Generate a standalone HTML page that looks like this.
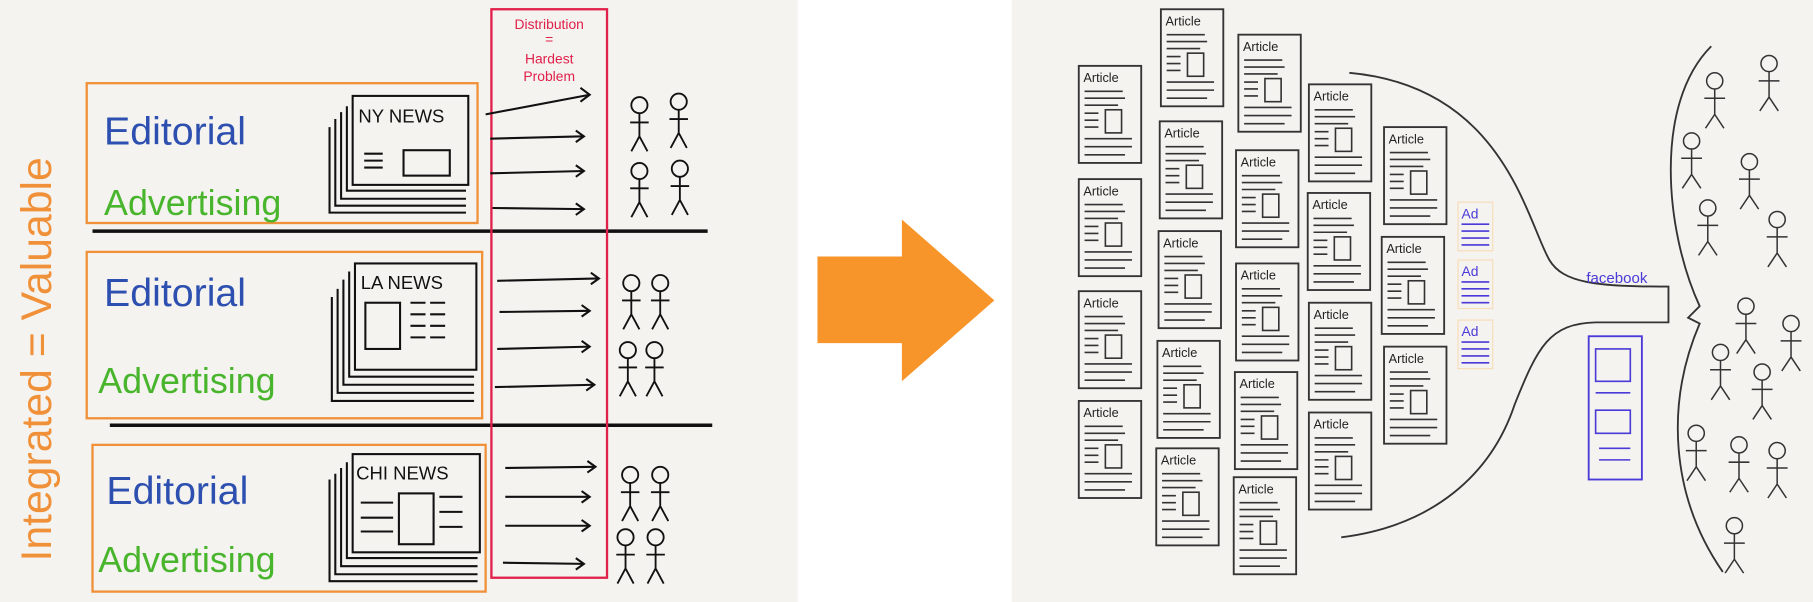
<!DOCTYPE html>
<html><head><meta charset="utf-8"><style>
html,body{margin:0;padding:0;background:#fff;}
svg{display:block;}
text{font-family:"Liberation Sans",sans-serif;}
</style></head><body>
<svg width="1813" height="602" viewBox="0 0 1568 521" preserveAspectRatio="none" xmlns="http://www.w3.org/2000/svg">
<defs>
<g id="fig"><circle cx="0" cy="0" r="7" fill="none" stroke="#111" stroke-width="1.6"/><path d="M0 7V27M-8 15H8M0 27L-7 40M0 27L7 40" stroke="#111" stroke-width="1.6" fill="none"/></g>
<g id="fig2"><circle cx="0" cy="0" r="7" fill="none" stroke="#333" stroke-width="1.3"/><path d="M0 7V29M-9 15H9M0 29L-8 41M0 29L8 41" stroke="#333" stroke-width="1.3" fill="none"/></g>
<g id="art"><rect x="0" y="0" width="54" height="84" fill="none" stroke="#333" stroke-width="1.6"/><path d="M5 22H38M5 28H40M5 34H34M5 41H17M5 47H17M5 53H17M5 63H46M5 70H46M5 77H40" stroke="#333" stroke-width="1.4"/><rect x="23" y="38" width="14" height="20" fill="none" stroke="#333" stroke-width="1.4"/></g>
<g id="ad"><rect x="0" y="0" width="30" height="42" fill="none" stroke="#f7dcb8" stroke-width="1"/><path d="M3 19H27M3 25H27M3 31H27M3 37H27" stroke="#4a3ad8" stroke-width="1.4"/></g>
</defs>
<rect x="0" y="0" width="690" height="521" fill="#f4f3ef"/>
<rect x="875" y="0" width="693" height="521" fill="#f4f3ef"/>
<path d="M707 222H780V190L860 260L780 330V297H707Z" fill="#f7952a"/>
<text transform="translate(44,486) rotate(-90)" font-size="37" fill="#f0913a">Integrated = Valuable</text>
<g fill="none" stroke="#f0913a" stroke-width="2">
<rect x="75" y="72" width="338" height="121"/><rect x="75" y="218" width="342" height="144"/><rect x="80" y="385" width="340" height="127"/></g>
<path d="M80 200H612M95 368H616" stroke="#111" stroke-width="3"/>
<rect x="425" y="8" width="100" height="492" fill="none" stroke="#e0204a" stroke-width="2"/>
<g fill="#e0204a" font-size="12" text-anchor="middle"><text x="475" y="25">Distribution</text><text x="475" y="38">=</text><text x="475" y="55">Hardest</text><text x="475" y="70">Problem</text></g>
<g font-size="34" fill="#2d4fb0"><text x="90" y="125">Editorial</text><text x="90" y="265">Editorial</text><text x="92" y="436">Editorial</text></g>
<g font-size="31" fill="#49b52d"><text x="90" y="186">Advertising</text><text x="85" y="340">Advertising</text><text x="85" y="495">Advertising</text></g>
<g fill="none" stroke="#111" stroke-width="1.8">
<rect x="305" y="83" width="100" height="77"/><path d="M300 92V165H403M295 97V172H403M290 103V178H403M285 110V184H403"/>
<rect x="307" y="228" width="105" height="92"/><path d="M302 235V326H410M297 242V333H410M292 250V340H410M287 257V347H410"/>
<rect x="305" y="393" width="110" height="85"/><path d="M300 400V483H413M295 405V490H413M290 410V497H413M285 415V503H413"/>
<rect x="349" y="130" width="40" height="22"/><path d="M315 133H331M315 139H331M315 145H331"/>
<rect x="316" y="262" width="30" height="40"/><path d="M355 262H368M372 262H385M355 272H368M372 272H385M355 282H368M372 282H385M355 292H368M372 292H385"/>
<rect x="345" y="427" width="30" height="44"/><path d="M312 435H340M312 448H340M312 460H340M380 430H400M380 443H400M380 456H400"/>
</g>
<g font-size="16" fill="#111"><text x="310" y="106">NY NEWS</text><text x="312" y="250">LA NEWS</text><text x="308" y="415">CHI NEWS</text></g>
<g stroke="#111" stroke-width="1.8" fill="none">
<path d="M420 99L510 82M424 120L505 118M424 150L505 148M426 180L505 181"/>
<path d="M430 243L518 241M432 270L510 269M430 302L510 300M428 335L514 333"/>
<path d="M437 405L515 404M437 430L510 430M437 455L510 455M435 487L505 488"/>
<path d="M502 76L510 82L502 88M498 113L505 118L498 123M498 143L505 148L498 153M498 176L505 181L498 186"/>
<path d="M511 236L518 241L511 246M503 264L510 269L503 274M503 295L510 300L503 305M507 328L514 333L507 338"/>
<path d="M508 399L515 404L508 409M503 425L510 430L503 435M503 450L510 455L503 460M498 483L505 488L498 493"/>
</g>
<use href="#fig" x="553" y="91"/><use href="#fig" x="587" y="88"/><use href="#fig" x="553" y="148"/><use href="#fig" x="588" y="146"/>
<use href="#fig" x="546" y="245"/><use href="#fig" x="571" y="245"/><use href="#fig" x="543" y="303"/><use href="#fig" x="566" y="303"/>
<use href="#fig" x="545" y="411"/><use href="#fig" x="571" y="411"/><use href="#fig" x="541" y="465"/><use href="#fig" x="567" y="465"/>
<g font-size="11" fill="#222">
<g transform="translate(933,57)"><use href="#art"/><text x="4" y="14">Article</text></g>
<g transform="translate(933,155)"><use href="#art"/><text x="4" y="14">Article</text></g>
<g transform="translate(933,252)"><use href="#art"/><text x="4" y="14">Article</text></g>
<g transform="translate(933,347)"><use href="#art"/><text x="4" y="14">Article</text></g>
<g transform="translate(1004,8)"><use href="#art"/><text x="4" y="14">Article</text></g>
<g transform="translate(1003,105)"><use href="#art"/><text x="4" y="14">Article</text></g>
<g transform="translate(1002,200)"><use href="#art"/><text x="4" y="14">Article</text></g>
<g transform="translate(1001,295)"><use href="#art"/><text x="4" y="14">Article</text></g>
<g transform="translate(1000,388)"><use href="#art"/><text x="4" y="14">Article</text></g>
<g transform="translate(1071,30)"><use href="#art"/><text x="4" y="14">Article</text></g>
<g transform="translate(1069,130)"><use href="#art"/><text x="4" y="14">Article</text></g>
<g transform="translate(1069,228)"><use href="#art"/><text x="4" y="14">Article</text></g>
<g transform="translate(1068,322)"><use href="#art"/><text x="4" y="14">Article</text></g>
<g transform="translate(1067,413)"><use href="#art"/><text x="4" y="14">Article</text></g>
<g transform="translate(1132,73)"><use href="#art"/><text x="4" y="14">Article</text></g>
<g transform="translate(1131,167)"><use href="#art"/><text x="4" y="14">Article</text></g>
<g transform="translate(1132,262)"><use href="#art"/><text x="4" y="14">Article</text></g>
<g transform="translate(1132,357)"><use href="#art"/><text x="4" y="14">Article</text></g>
<g transform="translate(1197,110)"><use href="#art"/><text x="4" y="14">Article</text></g>
<g transform="translate(1195,205)"><use href="#art"/><text x="4" y="14">Article</text></g>
<g transform="translate(1197,300)"><use href="#art"/><text x="4" y="14">Article</text></g>
</g>
<g font-size="12" fill="#4a3ad8">
<g transform="translate(1261,175)"><use href="#ad"/><text x="3" y="14">Ad</text></g>
<g transform="translate(1261,225)"><use href="#ad"/><text x="3" y="14">Ad</text></g>
<g transform="translate(1261,277)"><use href="#ad"/><text x="3" y="14">Ad</text></g>
</g>
<path d="M1167 63C1300 75 1320 190 1340 225C1352 245 1380 248 1443 248V279H1380C1340 280 1330 300 1310 350C1290 410 1240 455 1160 465" fill="none" stroke="#333" stroke-width="1.6"/>
<text x="1372" y="245" font-size="13" fill="#4a3ad8">facebook</text>
<rect x="1374" y="291" width="46" height="124" fill="none" stroke="#4a3ad8" stroke-width="1.6"/>
<path d="M1380 302H1410V330H1380ZM1380 340H1410M1380 355H1410V375H1380ZM1383 388H1410M1383 398H1410" fill="none" stroke="#4a3ad8" stroke-width="1.4"/>
<path d="M1480 40C1430 90 1440 200 1470 265L1460 275L1470 280C1440 350 1445 430 1490 495" fill="none" stroke="#333" stroke-width="1.6"/>
<use href="#fig2" x="1483" y="70"/><use href="#fig2" x="1530" y="55"/><use href="#fig2" x="1463" y="122"/><use href="#fig2" x="1513" y="140"/>
<use href="#fig2" x="1477" y="180"/><use href="#fig2" x="1537" y="190"/><use href="#fig2" x="1510" y="265"/><use href="#fig2" x="1549" y="280"/>
<use href="#fig2" x="1488" y="305"/><use href="#fig2" x="1524" y="322"/><use href="#fig2" x="1467" y="375"/><use href="#fig2" x="1504" y="385"/>
<use href="#fig2" x="1537" y="390"/><use href="#fig2" x="1500" y="455"/>
</svg>
</body></html>
